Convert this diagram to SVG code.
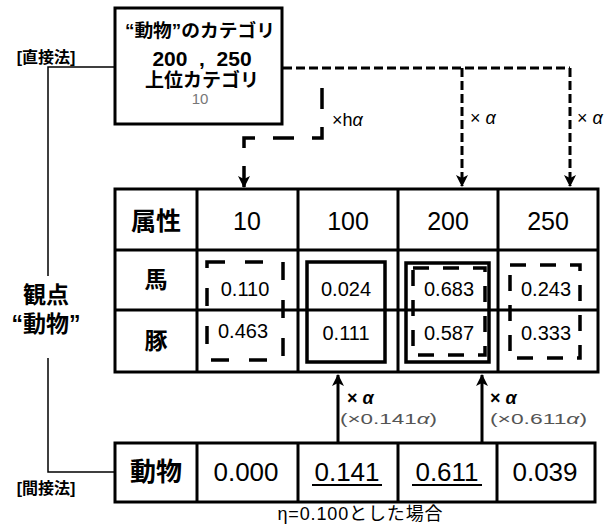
<svg xmlns="http://www.w3.org/2000/svg" width="605" height="527" viewBox="0 0 605 527">
<defs>
<style>
text{font-family:"Liberation Sans","Noto Sans CJK JP",sans-serif;fill:#000;dominant-baseline:central;text-anchor:middle}
.b{font-weight:bold}
.cell{fill:#fff;stroke:#000;stroke-width:3}
.thin{fill:none;stroke:#000;stroke-width:1.5}
.dash{fill:none;stroke:#000;stroke-width:3.5;stroke-dasharray:18 20}
.solid{fill:none;stroke:#000;stroke-width:3.5}
.topdash{fill:none;stroke:#000;stroke-width:3;stroke-dasharray:9 4}
.hdash{fill:none;stroke:#000;stroke-width:3.5;stroke-dasharray:21 18}
.val{font-size:20px}
.hdr{font-size:25px}
.big{font-size:26px}
.grey{fill:#555;font-size:15px}
.lbl{font-size:18px;text-anchor:start}
</style>
<marker id="ah" viewBox="0 0 12 12" refX="11" refY="6" markerWidth="12" markerHeight="12" markerUnits="userSpaceOnUse" orient="auto">
<path d="M0,0 L12,6 L0,12 L3,6 Z" fill="#000"/>
</marker>
</defs>
<rect width="605" height="527" fill="#fff"/>

<g id="connectors">
<path class="thin" d="M115,67 H48 V276"/>
<path class="thin" d="M48,358 V472 H115"/>
<path class="topdash" d="M283,68 H570"/>
<path class="topdash" d="M462,68 V186" marker-end="url(#ah)"/>
<path class="topdash" d="M570,68 V186" marker-end="url(#ah)"/>
<path class="hdash" d="M322,88 V138 H244 V187" marker-end="url(#ah)"/>
<path d="M338,442 V375" stroke="#000" stroke-width="3" fill="none" marker-end="url(#ah)"/>
<path d="M482,442 V375" stroke="#000" stroke-width="3" fill="none" marker-end="url(#ah)"/>
<text x="332" y="120" class="lbl">×h<tspan font-style="italic">α</tspan></text>
<text x="470" y="118" class="lbl">× <tspan font-style="italic">α</tspan></text>
<text x="577" y="118" class="lbl">× <tspan font-style="italic">α</tspan></text>
<text x="347" y="398" class="b lbl">× <tspan font-style="italic">α</tspan></text>
<text x="340" y="418" class="grey" style="text-anchor:start" textLength="97" lengthAdjust="spacingAndGlyphs">(×0.141<tspan font-style="italic">α</tspan>)</text>
<text x="490" y="398" class="b lbl">× <tspan font-style="italic">α</tspan></text>
<text x="490" y="418" class="grey" style="text-anchor:start" textLength="97" lengthAdjust="spacingAndGlyphs">(×0.611<tspan font-style="italic">α</tspan>)</text>
</g>

<g id="labels">
<text x="46" y="57" class="b" style="font-size:16px">[直接法]</text>
<text x="46" y="488" class="b" style="font-size:16px">[間接法]</text>
<text x="46" y="295" class="b" style="font-size:23px">観点</text>
<text x="46" y="324" class="b" style="font-size:23px">“動物”</text>
<text x="360" y="514" style="font-size:18px" textLength="165">η=0.100とした場合</text>
</g>

<g id="category-box">
<rect x="115" y="8" width="167" height="116" class="cell"/>
<text x="200" y="31" class="b" style="font-size:18px" textLength="150" lengthAdjust="spacingAndGlyphs">“動物”のカテゴリ</text>
<text x="202" y="58" class="b" style="font-size:21px" xml:space="preserve">200  ,  250</text>
<text x="202" y="80" class="b" style="font-size:19px">上位カテゴリ</text>
<text x="200" y="98" style="font-size:15px;fill:#777">10</text>
</g>

<g id="table">
<rect x="115" y="189" width="483" height="183" class="cell"/>
<path d="M115,250 H598 M115,310 H598 M197,189 V372 M298,189 V372 M398,189 V372 M498,189 V372" stroke="#000" stroke-width="3" fill="none"/>
<text x="156" y="221" class="b hdr">属性</text>
<text x="247" y="221" class="hdr">10</text>
<text x="348" y="221" class="hdr">100</text>
<text x="448" y="221" class="hdr">200</text>
<text x="548" y="221" class="hdr">250</text>
<text x="156" y="280" class="b" style="font-size:23px">馬</text>
<text x="156" y="341" class="b" style="font-size:23px">豚</text>
</g>

<g id="cell-10">
<rect x="207" y="262" width="76" height="98" class="dash"/>
<text x="245" y="289" class="val">0.110</text>
<text x="243" y="331" class="val">0.463</text>
</g>
<g id="cell-100">
<rect x="307" y="262" width="78" height="100" class="solid"/>
<text x="346" y="289" class="val">0.024</text>
<text x="346" y="333" class="val">0.111</text>
</g>
<g id="cell-200">
<rect x="406" y="263" width="83" height="99" class="solid"/>
<rect x="413" y="268" width="72" height="87" class="dash" style="stroke-dasharray:16 14"/>
<text x="449" y="289" class="val">0.683</text>
<text x="449" y="333" class="val">0.587</text>
</g>
<g id="cell-250">
<rect x="510" y="265" width="70" height="93" class="dash" style="stroke-dasharray:16 14"/>
<text x="546" y="289" class="val">0.243</text>
<text x="546" y="333" class="val">0.333</text>
</g>

<g id="indirect-row">
<rect x="115" y="443" width="480" height="59" class="cell"/>
<path d="M197,443 V502 M298,443 V502 M398,443 V502 M497,443 V502" stroke="#000" stroke-width="3" fill="none"/>
<text x="156" y="472" class="b big">動物</text>
<text x="246" y="472" class="big">0.000</text>
<text x="347" y="472" class="big">0.141</text>
<text x="447" y="472" class="big">0.611</text>
<text x="545" y="472" class="big">0.039</text>
<path d="M312,485 H382 M412,485 H482" stroke="#000" stroke-width="2"/>
</g>
</svg>
